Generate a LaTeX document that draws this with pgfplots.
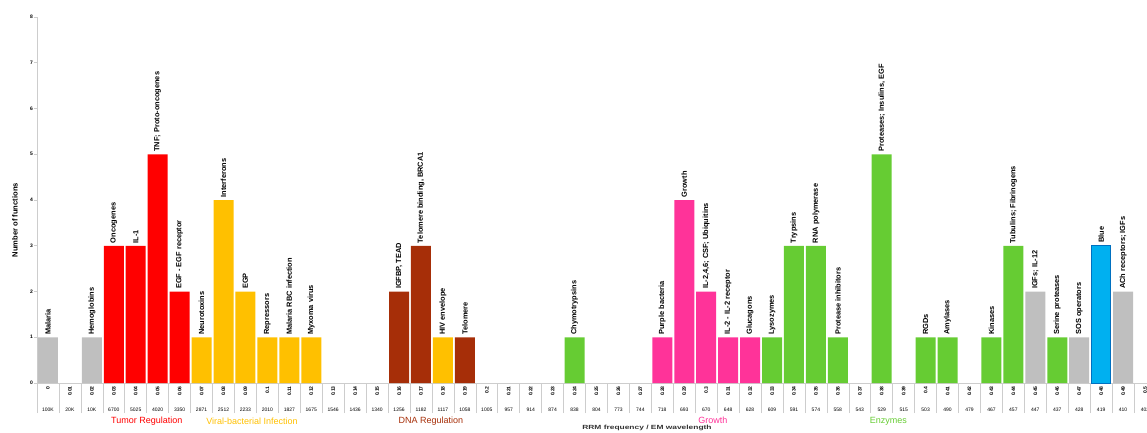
\documentclass[border=0pt]{standalone}
\usepackage{fontspec}
\setmainfont{Liberation Sans}
\usepackage{graphicx}
\usepackage{pgfplots}
\pgfplotsset{compat=1.18}

% semicolon for use inside point labels
\newcommand\semi{\char59\relax}

\definecolor{cgray}{RGB}{191,191,191}
\definecolor{cred}{RGB}{255,0,0}
\definecolor{cgold}{RGB}{255,192,0}
\definecolor{cbrown}{RGB}{166,46,8}
\definecolor{cpink}{RGB}{255,51,153}
\definecolor{cgreen}{RGB}{102,204,51}
\definecolor{cblue}{RGB}{0,176,240}
\definecolor{cblueedge}{RGB}{0,112,192}
\definecolor{axisgray}{RGB}{205,205,205}

\begin{document}
\begin{tikzpicture}
\begin{axis}[
  x=21.94pt, y=45.75pt,
  xmin=-0.5, xmax=50.09, ymin=0, ymax=8,
  clip=false,
  axis lines*=left,
  axis line style={draw=axisgray, line width=0.8pt},
  tick align=outside,
  major tick length=3pt,
  tick style={axisgray, line width=0.6pt},
  ytick={0,...,8},
  yticklabel style={font=\fontsize{5}{6}\selectfont\bfseries, inner sep=1pt},
  /pgf/number format/assume math mode=true,
  ylabel={Number of functions},
  every axis y label/.style={at={(axis description cs:0,0.445)}, xshift=-22pt,
    rotate=90, anchor=center, font=\fontsize{7.6}{9}\selectfont\bfseries},
  % wavelength row
  xtick={0,...,50},
  every major x tick/.style={draw=none},
  xticklabels={100K,20K,10K,6700,5025,4020,3350,2871,2512,2233,2010,1827,1675,
    1546,1436,1340,1256,1182,1117,1058,1005,957,914,874,838,804,773,744,718,693,
    670,648,628,609,591,574,558,543,529,515,503,490,479,467,457,447,437,428,419,
    410,402},
  xticklabel shift=21pt,
  xticklabel style={font=\fontsize{5}{6}\selectfont, anchor=north, inner sep=1pt},
  % frequency row
  extra x ticks={0,...,50},
  extra x tick labels={0,0.01,0.02,0.03,0.04,0.05,0.06,0.07,0.08,0.09,
    0.1,0.11,0.12,0.13,0.14,0.15,0.16,0.17,0.18,0.19,
    0.2,0.21,0.22,0.23,0.24,0.25,0.26,0.27,0.28,0.29,
    0.3,0.31,0.32,0.33,0.34,0.35,0.36,0.37,0.38,0.39,
    0.4,0.41,0.42,0.43,0.44,0.45,0.46,0.47,0.48,0.49,0.5},
  extra x tick style={major tick length=0pt, xticklabel shift=2pt,
    xticklabel style={rotate=90, anchor=east, font=\fontsize{5}{6}\selectfont\bfseries}},
  % cell separators of the label table
  minor xtick={-0.5,0.5,...,49.5},
  minor tick length=30pt,
  every minor tick/.style={axisgray, line width=0.6pt},
  point meta=explicit symbolic,
  nodes near coords,
  nodes near coords style={rotate=90, anchor=west, inner sep=2.5pt,
    text=black, font=\fontsize{7.4}{9}\selectfont\bfseries},
]
\addplot[ybar, bar width=20pt, bar shift=0pt, fill=cgray, draw=none] coordinates {
  (0,1) [Malaria] (2,1) [Hemoglobins] (45,2) [IGFs\semi{} IL-12]
  (47,1) [SOS operators] (49,2) [ACh receptors\semi{} IGFs]
};
\addplot[ybar, bar width=20pt, bar shift=0pt, fill=cred, draw=none] coordinates {
  (3,3) [Oncogenes] (4,3) [IL-1] (5,5) [TNF\semi{} Proto-oncogenes]
  (6,2) [EGF - EGF receptor]
};
\addplot[ybar, bar width=20pt, bar shift=0pt, fill=cgold, draw=none] coordinates {
  (7,1) [Neurotoxins] (8,4) [Interferons] (9,2) [EGP] (10,1) [Repressors]
  (11,1) [Malaria RBC infection] (12,1) [Myxoma virus] (18,1) [HIV envelope]
};
\addplot[ybar, bar width=20pt, bar shift=0pt, fill=cbrown, draw=none] coordinates {
  (16,2) [IGFBP, TEAD] (17,3) [Telomere binding, BRCA1] (19,1) [Telomere]
};
\addplot[ybar, bar width=20pt, bar shift=0pt, fill=cpink, draw=none] coordinates {
  (28,1) [Purple bacteria] (29,4) [Growth] (30,2) [IL-2,4,6\semi{} CSF\semi{} Ubiquitins]
  (31,1) [IL-2 - IL-2 receptor] (32,1) [Glucagons]
};
\addplot[ybar, bar width=20pt, bar shift=0pt, fill=cgreen, draw=none] coordinates {
  (24,1) [Chymotrypsins] (33,1) [Lysozymes] (34,3) [Trypsins]
  (35,3) [RNA polymerase] (36,1) [Protease inhibitors]
  (38,5) [Proteases\semi{} Insulins, EGF] (40,1) [RGDs] (41,1) [Amylases]
  (43,1) [Kinases] (44,3) [Tubulins\semi{} Fibrinogens] (46,1) [Serine proteases]
};
\addplot[ybar, bar width=19pt, bar shift=0pt, fill=cblue, draw=cblueedge,
  line width=1pt] coordinates {
  (48,3) [Blue]
};

% group names under the label table
\node[text=cred, font=\fontsize{9}{10}\selectfont] at ([yshift=-38pt]axis cs:4.5,0) {Tumor Regulation};
\node[text=cgold, font=\fontsize{9}{10}\selectfont] at ([yshift=-38pt]axis cs:9.3,0) {Viral-bacterial Infection};
\node[text=cbrown, font=\fontsize{9}{10}\selectfont] at ([yshift=-38pt]axis cs:17.45,0) {DNA Regulation};
\node[text=cpink, font=\fontsize{9}{10}\selectfont] at ([yshift=-37pt]axis cs:30.3,0) {Growth};
\node[text=cgreen, font=\fontsize{9}{10}\selectfont] at ([yshift=-38pt]axis cs:38.3,0) {Enzymes};
\node[text=black!80, font=\fontsize{6}{7}\selectfont\bfseries] at ([yshift=-45pt]axis cs:27.3,0)
  {\scalebox{1.4}[1]{RRM frequency / EM wavelength}};

\coordinate (bbSW) at ([xshift=-37pt,yshift=-49pt]axis cs:-0.5,0);
\coordinate (bbNE) at ([yshift=17pt]axis cs:50.09,8);
\end{axis}
\pgfresetboundingbox
\useasboundingbox (bbSW) rectangle (bbNE);
\end{tikzpicture}
\end{document}
